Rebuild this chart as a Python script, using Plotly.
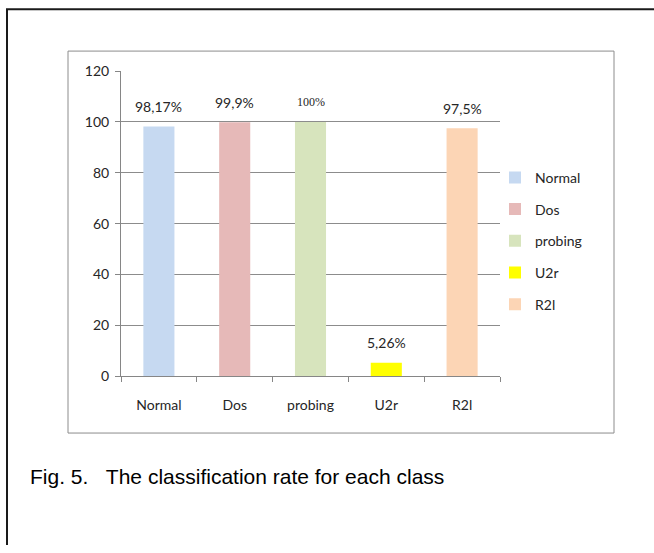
import plotly.graph_objects as go

# Classification rate per traffic class
classes = ["Normal", "Dos", "probing", "U2r", "R2l"]
rates = [98.17, 99.9, 100, 5.26, 97.5]
rate_labels = ["98,17%", "99,9%", "100%", "5,26%", "97,5%"]
colors = ["#c6d9f1", "#e6b9b8", "#d7e4bd", "#ffff00", "#fcd5b5"]
y_ticks = [0, 20, 40, 60, 80, 100, 120]

W, H = 654, 553
FONT = "Lato, Carlito, Calibri, sans-serif"


def px_x(x):
    return x / W


def px_y(y):
    # page pixel row -> paper fraction (small vertical correction for the page offset)
    t = (y - 7.8) / 0.9719
    return 1 - t / H


fig = go.Figure()

for name, val, col in zip(classes, rates, colors):
    fig.add_trace(go.Bar(
        x=[name], y=[val], name=name, marker_color=col,
        marker_line_width=0, width=0.41, legendgroup=name,
        hoverinfo="skip",
    ))

# value labels above each bar
for name, val, lab in zip(classes, rates, rate_labels):
    serif = lab == "100%"
    fig.add_annotation(
        x=name, y=val, text=lab, showarrow=False, yshift=20,
        xref="x", yref="y",
        font=dict(family="Liberation Serif, serif" if serif else FONT,
                  size=12 if serif else 14, color="#262626"),
    )

# outer figure frame (top and left edges)
fig.add_shape(type="line", xref="paper", yref="paper",
              x0=px_x(6), x1=1.0, y0=px_y(8), y1=px_y(8),
              line=dict(color="#1a1a1a", width=2))
fig.add_shape(type="line", xref="paper", yref="paper",
              x0=px_x(7), x1=px_x(7), y0=px_y(8), y1=0,
              line=dict(color="#1a1a1a", width=2))
# chart area border
fig.add_shape(type="rect", xref="paper", yref="paper",
              x0=px_x(68), x1=px_x(614), y0=px_y(433), y1=px_y(50),
              line=dict(color="#8c8c8c", width=1))

# caption
fig.add_annotation(
    x=px_x(28), y=px_y(477), xref="paper", yref="paper",
    xanchor="left", yanchor="middle", showarrow=False,
    text="Fig. 5.&nbsp;&nbsp;&nbsp;The classification rate for each class",
    font=dict(family="Liberation Sans, Arial, sans-serif",
              size=21, color="#000000"),
)

fig.update_layout(
    width=W, height=H,
    margin=dict(l=0, r=0, t=0, b=0),
    paper_bgcolor="white", plot_bgcolor="white",
    barmode="overlay",
    font=dict(family=FONT, size=14, color="#262626"),
    showlegend=True,
    legend=dict(
        x=px_x(495), y=px_y(161), xanchor="left", yanchor="top",
        font=dict(family=FONT, size=14, color="#262626"),
        tracegroupgap=10.5, bgcolor="rgba(0,0,0,0)",
        itemclick=False, itemdoubleclick=False,
    ),
    xaxis=dict(
        domain=[px_x(121), px_x(500)],
        categoryorder="array", categoryarray=classes,
        showline=True, linecolor="#868686", linewidth=1,
        ticks="outside", tickson="boundaries", ticklen=5, tickcolor="#868686",
        ticklabelstandoff=16,
        showgrid=False, zeroline=False, fixedrange=True,
    ),
    yaxis=dict(
        domain=[px_y(376), px_y(70)],
        range=[0, 120], tickvals=y_ticks,
        showline=True, linecolor="#868686", linewidth=1,
        ticks="outside", ticklen=5, tickcolor="#868686",
        ticklabelstandoff=3,
        showgrid=True, gridcolor="#8c8c8c", gridwidth=1,
        zeroline=False, fixedrange=True,
    ),
)

fig.write_html("out.html")
